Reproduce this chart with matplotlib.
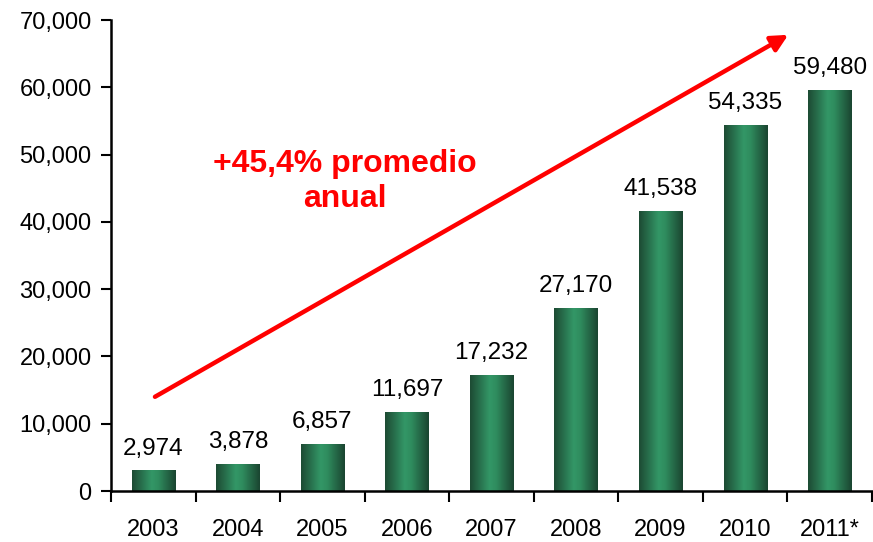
import matplotlib
matplotlib.use("Agg")
import matplotlib.pyplot as plt
import numpy as np
from matplotlib.colors import LinearSegmentedColormap
from matplotlib.ticker import FuncFormatter, MultipleLocator, FixedLocator

categories = ["2003", "2004", "2005", "2006", "2007", "2008", "2009", "2010", "2011*"]
values = [2974, 3878, 6857, 11697, 17232, 27170, 41538, 54335, 59480]
value_labels = ["2,974", "3,878", "6,857", "11,697", "17,232", "27,170", "41,538", "54,335", "59,480"]
annotation = "+45,4% promedio\nanual"

plt.rcParams['font.family'] = ['Liberation Sans', 'DejaVu Sans']

fig = plt.figure(figsize=(8.73, 5.42), dpi=100)
ax = fig.add_axes([111/873, 1 - 491/542, (872-111)/873, 471/542])

x = np.arange(len(categories))
width = 0.51

cmap = LinearSegmentedColormap.from_list("g", [(0, "#1d4a33"), (0.45, "#339767"), (0.6, "#2f8c5e"), (1, "#1a4430")])
grad = np.linspace(0, 1, 256).reshape(1, -1)
bars = ax.bar(x, values, width=width, color="none", edgecolor="none")
for b, v in zip(bars, values):
    x0 = b.get_x()
    ax.imshow(grad, cmap=cmap, aspect="auto", extent=[x0, x0 + width, 0, v], zorder=2, interpolation="bicubic")
ax.set_xlim(-0.5, len(categories) - 0.5)
ax.set_ylim(0, 70000)

for xi, v, lab in zip(x, values, value_labels):
    ax.text(xi, v + 1700, lab, ha="center", va="bottom", fontsize=17.5, color="black")

ax.annotate("", xy=(7.51, 67800), xytext=(0.02, 14000),
            arrowprops=dict(arrowstyle="-|>,head_length=1.0,head_width=0.5", color="#ff0000", lw=3.2, shrinkA=0, shrinkB=0))
ax.text(2.27, 46000, annotation, ha="center", va="center", fontsize=23, fontweight="bold", color="#ff0000", linespacing=1.2)

ax.yaxis.set_major_locator(MultipleLocator(10000))
ax.yaxis.set_major_formatter(FuncFormatter(lambda v, p: f"{int(v):,}"))
ax.set_xticks(x)
ax.set_xticklabels(categories)
ax.xaxis.set_minor_locator(FixedLocator(np.arange(-0.5, len(categories), 1)))
ax.tick_params(axis="x", which="major", length=0, pad=20, labelsize=17)
ax.tick_params(axis="x", which="minor", length=8, width=1.5, direction="out")
ax.tick_params(axis="y", length=7, width=1.5, direction="out", labelsize=17, pad=7)
for s in ["top", "right"]:
    ax.spines[s].set_visible(False)
ax.spines["left"].set_linewidth(1.8)
ax.spines["bottom"].set_linewidth(1.8)

fig.savefig("out.png", dpi=100)
